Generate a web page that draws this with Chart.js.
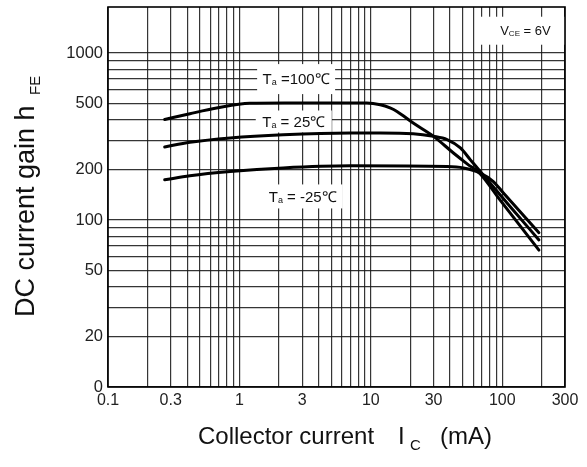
<!DOCTYPE html>
<html>
<head>
<meta charset="utf-8">
<script src="https://cdn.jsdelivr.net/npm/chart.js@4.4.1/dist/chart.umd.min.js"></script>
<style>
html,body{margin:0;padding:0;background:#fff;}
#wrap{width:587px;height:467px;}
</style>
</head>
<body>
<div id="wrap"><canvas id="c" width="587" height="467"></canvas></div>
<script>
// ---- data ----
const icHot   = [0.27, 0.42, 0.67, 1.2, 2.2, 9.3, 11.8, 14, 15.8, 21, 30, 42.5, 54, 68, 96, 190];
const hfeHot  = [400, 433, 468, 500, 502, 502, 490, 469, 447, 381, 317, 252, 217, 189, 132, 66];
const icRoom  = [0.27, 0.42, 0.85, 2.15, 7, 11.8, 21, 30, 38, 48, 57, 68, 115, 190];
const hfeRoom = [274, 292, 310, 324, 332, 332, 329, 317, 303, 270, 230, 195, 120, 76];
const icCold  = [0.27, 0.42, 0.85, 2.15, 7, 38, 50.6, 68, 85.5, 102, 190];
const hfeCold = [174, 184, 195, 205, 211, 209, 205, 191, 170, 145, 84];

const seriesNames = ['Ta =100℃', 'Ta = 25℃', 'Ta = -25℃'];

const xGridValues = [0.1,0.2,0.3,0.4,0.5,0.6,0.7,0.8,0.9,1,2,3,4,5,6,7,8,9,10,20,30,40,50,60,70,80,90,100,200,300];
const xLabelValues = [0.1, 0.3, 1, 3, 10, 30, 100, 300];
const xLabelTexts  = ['0.1', '0.3', '1', '3', '10', '30', '100', '300'];
const yGridValues = [10,20,30,40,50,60,70,80,90,100,200,300,400,500,600,700,800,900,1000];
const yLabelValues = [10, 20, 50, 100, 200, 500, 1000];
const yLabelTexts  = ['0', '20', '50', '100', '200', '500', '1000'];

const xMin = 0.1, xMax = 300, yMin = 10, yMax = 1886;

// ---- helpers ----
const FONT = '"Liberation Sans", Arial, Helvetica, sans-serif';
function findLabel(values, texts, v) {
  const i = values.findIndex(a => Math.abs(a - v) < 1e-9 * Math.max(1, a));
  return i >= 0 ? texts[i] : '';
}
function toPoints(xs, ys) { return xs.map((x, i) => ({x: x, y: ys[i]})); }

function partsWidth(ctx, parts) {
  let w = 0;
  parts.forEach(p => { ctx.font = p.size + 'px ' + FONT; w += ctx.measureText(p.t).width; });
  return w;
}
function drawParts(ctx, parts, x, baseline) {
  let cx = x;
  parts.forEach(p => {
    ctx.font = p.size + 'px ' + FONT;
    ctx.fillText(p.t, cx, baseline + (p.dy || 0));
    cx += ctx.measureText(p.t).width;
  });
}
function tempParts(name) {
  return [{t: 'T', size: 15}, {t: 'a', size: 9, dy: 1}, {t: name.slice(2), size: 15}];
}

// label boxes: anchor in data coords, box size in px
const curveLabels = [
  {x: 2.70, y: 698, w: 78, h: 30, parts: tempParts(seriesNames[0])},
  {x: 2.59, y: 389, w: 76, h: 22, parts: tempParts(seriesNames[1])},
  {x: 3.03, y: 138.4, w: 80, h: 24, parts: tempParts(seriesNames[2])},
  {x: 150, y: 1360, w: 88, h: 28, parts: [{t: 'V', size: 13}, {t: 'CE', size: 8, dy: 1}, {t: ' = 6V', size: 13}], dx: 4}
];

const boxesPlugin = {
  id: 'boxes',
  beforeDatasetsDraw(chart) {
    const ctx = chart.ctx, a = chart.chartArea;
    const sx = chart.scales.x, sy = chart.scales.y;
    ctx.save();
    ctx.beginPath();
    ctx.rect(a.left, a.top, a.right - a.left, a.bottom - a.top);
    ctx.clip();
    curveLabels.forEach(l => {
      const px = sx.getPixelForValue(l.x), py = sy.getPixelForValue(l.y);
      ctx.fillStyle = '#fff';
      ctx.fillRect(px - l.w / 2 - (l.dx || 0), py - l.h / 2, l.w, l.h);
      ctx.fillStyle = '#111';
      ctx.textBaseline = 'alphabetic';
      ctx.textAlign = 'left';
      const w = partsWidth(ctx, l.parts);
      const cap = l.parts[0].size * 0.72;
      drawParts(ctx, l.parts, px - w / 2, py + cap / 2);
    });
    ctx.restore();
    ctx.save();
    ctx.strokeStyle = '#000';
    ctx.lineWidth = 1.6;
    ctx.strokeRect(a.left, a.top, a.right - a.left, a.bottom - a.top);
    ctx.restore();
  }
};

const titlesPlugin = {
  id: 'titles',
  afterDraw(chart) {
    const ctx = chart.ctx, a = chart.chartArea;
    ctx.save();
    ctx.fillStyle = '#111';
    ctx.textAlign = 'left';
    ctx.textBaseline = 'alphabetic';
    // x title
    const x0 = a.left + 90, base = a.bottom + 57;
    ctx.font = '24px ' + FONT;
    ctx.fillText('Collector current', x0, base);
    ctx.fillText('I', x0 + 200, base);
    ctx.fillText('(mA)', x0 + 242, base);
    ctx.font = '15px ' + FONT;
    ctx.fillText('C', x0 + 212, base + 6);
    // y title (rotated)
    ctx.translate(34, 317);
    ctx.rotate(-Math.PI / 2);
    ctx.font = '27px ' + FONT;
    const main = 'DC current gain ';
    ctx.fillText(main, 0, 0);
    const wMain = ctx.measureText(main).width;
    ctx.fillText('h', wMain, 0);
    ctx.font = '15px ' + FONT;
    ctx.fillText('FE', 222, 6);
    ctx.restore();
  }
};

const gridStyle = {color: 'rgba(25,25,25,0.88)', lineWidth: 1.2, drawTicks: false};

new Chart(document.getElementById('c'), {
  type: 'line',
  data: {
    datasets: [
      {label: seriesNames[0], data: toPoints(icHot, hfeHot)},
      {label: seriesNames[1], data: toPoints(icRoom, hfeRoom)},
      {label: seriesNames[2], data: toPoints(icCold, hfeCold)}
    ].map(d => Object.assign(d, {
      borderColor: '#000', borderWidth: 3, pointRadius: 0, fill: false,
      cubicInterpolationMode: 'monotone', borderCapStyle: 'round', borderJoinStyle: 'round'
    }))
  },
  options: {
    responsive: false,
    animation: false,
    devicePixelRatio: 1,
    layout: {padding: {top: 7, right: 22, left: 0, bottom: 0}},
    plugins: {legend: {display: false}, tooltip: {enabled: false}},
    scales: {
      x: {
        type: 'logarithmic', min: xMin, max: xMax,
        afterBuildTicks: s => { s.ticks = xGridValues.map(v => ({value: v})); },
        afterFit: s => { s.height = 80; s.paddingLeft = 0; s.paddingRight = 0; },
        grid: gridStyle,
        border: {display: false},
        ticks: {
          autoSkip: false, maxRotation: 0, minRotation: 0, padding: 4,
          color: '#222', font: {family: FONT, size: 16},
          callback: v => findLabel(xLabelValues, xLabelTexts, v)
        }
      },
      y: {
        type: 'logarithmic', min: yMin, max: yMax,
        afterBuildTicks: s => { s.ticks = yGridValues.map(v => ({value: v})); },
        afterFit: s => { s.width = 108; s.paddingTop = 0; s.paddingBottom = 0; },
        grid: gridStyle,
        border: {display: false},
        ticks: {
          autoSkip: false, padding: 5,
          color: '#222', font: {family: FONT, size: 16.5},
          callback: v => findLabel(yLabelValues, yLabelTexts, v)
        }
      }
    }
  },
  plugins: [boxesPlugin, titlesPlugin]
});
</script>
</body>
</html>
